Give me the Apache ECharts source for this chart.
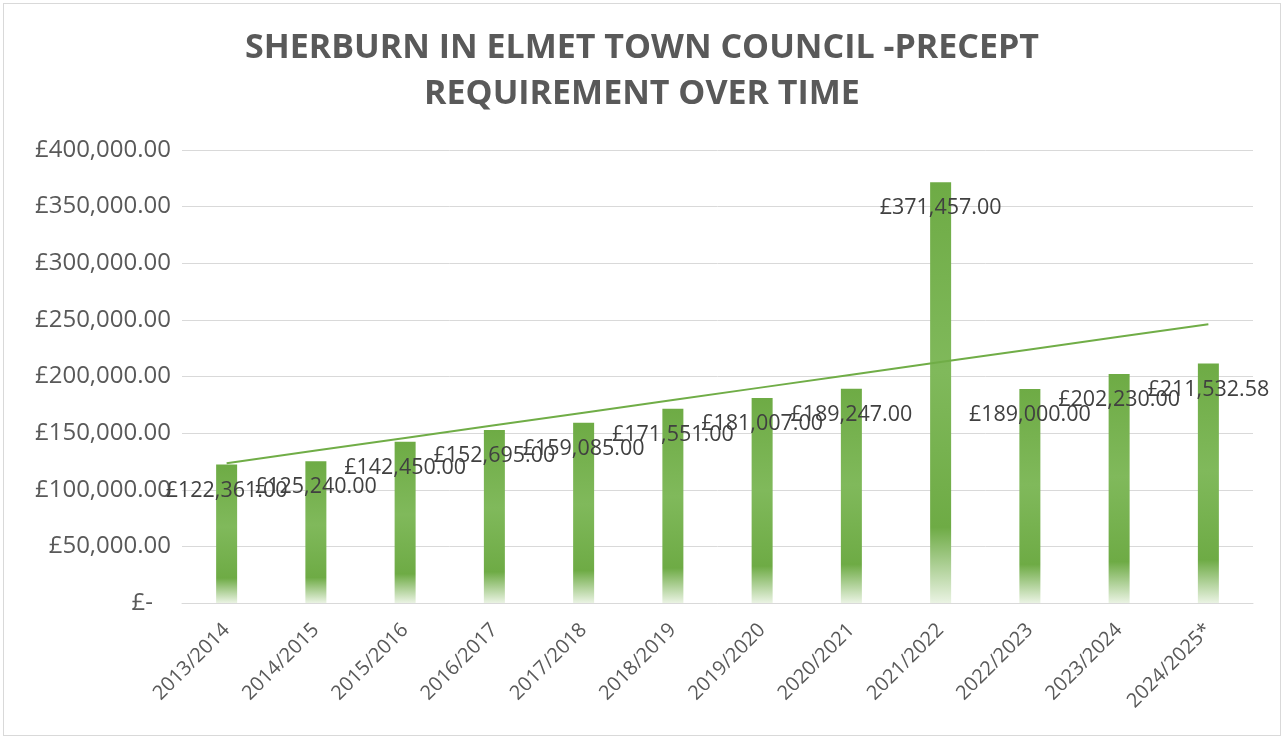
<!DOCTYPE html>
<html>
<head>
<meta charset="utf-8">
<script src="https://cdn.jsdelivr.net/npm/echarts@6/dist/echarts.min.js"></script>
<style>
  html, body { margin: 0; padding: 0; background: #fff; }
  #chart { position: absolute; left: 3px; top: 3px; width: 1278px; height: 733px; border: 1px solid #d9d9d9; box-sizing: border-box; }
</style>
</head>
<body>
<div id="chart"></div>
<script>
  var titleLines = ['SHERBURN IN ELMET TOWN COUNCIL -PRECEPT', 'REQUIREMENT OVER TIME']
  var years = ['2013/2014', '2014/2015', '2015/2016', '2016/2017', '2017/2018', '2018/2019',
    '2019/2020', '2020/2021', '2021/2022', '2022/2023', '2023/2024', '2024/2025*']
  var precept = [122361, 125240, 142450, 152695, 159085, 171551,
    181007, 189247, 371457, 189000, 202230, 211532.58]

  // linear trendline (least squares), like the Excel one
  function trend (vals) {
    var n = vals.length
    var mx = (n - 1) / 2
    var my = vals.reduce(function (a, b) { return a + b }, 0) / n
    var sxy = 0, sxx = 0
    vals.forEach(function (v, i) { sxy += (i - mx) * (v - my); sxx += (i - mx) * (i - mx) })
    var k = sxy / sxx
    return vals.map(function (v, i) { return my + k * (i - mx) })
  }

  function money (v) {
    return '£' + Number(v).toLocaleString('en-GB', { minimumFractionDigits: 2, maximumFractionDigits: 2 })
  }

  var font = '"Open Sans", "Noto Sans", sans-serif'
  var myChart = echarts.init(document.getElementById('chart'))
  myChart.setOption({
    animation: false,
    title: {
      text: titleLines.join('\n'),
      left: 'center',
      top: 16,
      textStyle: { fontFamily: font, fontWeight: 'bold', fontSize: 34, lineHeight: 46, color: '#595959' }
    },
    grid: { left: 178, right: 27, top: 146, bottom: 132 },
    xAxis: {
      type: 'category',
      data: years,
      axisTick: { show: false },
      axisLine: { lineStyle: { color: '#d9d9d9', width: 1 } },
      axisLabel: { rotate: 45, margin: 24, fontFamily: font, fontSize: 20, color: '#595959', interval: 0 }
    },
    yAxis: {
      type: 'value',
      min: 0,
      max: 400000,
      interval: 50000,
      splitLine: { lineStyle: { color: '#d9d9d9', width: 1 } },
      axisLabel: {
        margin: 11,
        fontFamily: font,
        fontSize: 24,
        color: '#595959',
        formatter: function (v) { return v === 0 ? '{z|£-}' : money(v) },
        rich: { z: { fontFamily: font, fontSize: 24, color: '#595959', padding: [0, 18, 0, 0] } }
      }
    },
    series: [
      {
        name: 'Precept',
        type: 'bar',
        barWidth: 21,
        data: precept,
        itemStyle: {
          color: new echarts.graphic.LinearGradient(0, 0, 0, 1, [
            { offset: 0, color: '#6EAB45' },
            { offset: 0.45, color: '#80B95B' },
            { offset: 0.82, color: '#6EAB45' },
            { offset: 1, color: '#EAF3E3' }
          ])
        },
        label: {
          show: true,
          position: 'insideTop',
          distance: 15,
          fontFamily: font,
          fontSize: 21.5,
          color: '#404040',
          formatter: function (p) { return money(p.value) }
        }
      },
      {
        name: 'Trend',
        type: 'line',
        data: trend(precept),
        showSymbol: false,
        lineStyle: { color: '#70AD47', width: 2 },
        z: 3
      }
    ]
  })
</script>
</body>
</html>
